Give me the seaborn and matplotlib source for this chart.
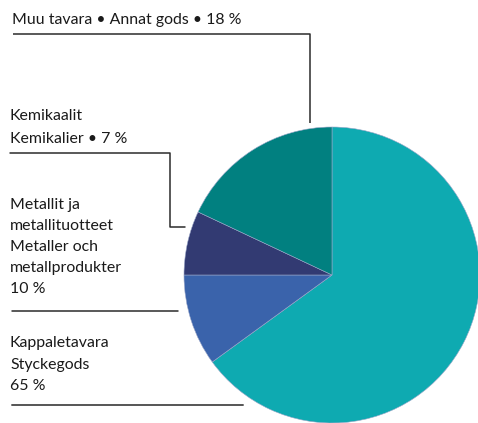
import matplotlib
matplotlib.use("Agg")
import matplotlib.pyplot as plt
import seaborn as sns

# shares of goods, clockwise from 12 o'clock
categories = ["Kappaletavara", "Metallit", "Kemikaalit", "Muu tavara"]
shares = [65, 10, 7, 18]
colors = ["#0eaab1", "#3a63ab", "#323a72", "#018080"]

label_lines = {
    "Muu tavara": ["Muu tavara • Annat gods • 18 %"],
    "Kemikaalit": ["Kemikaalit", "Kemikalier • 7 %"],
    "Metallit": ["Metallit ja", "metallituotteet", "Metaller och", "metallprodukter", "10 %"],
    "Kappaletavara": ["Kappaletavara", "Styckegods", "65 %"],
}

sns.set_theme(style="white")
plt.rcParams["font.family"] = ["Lato", "DejaVu Sans"]

W, H = 478, 423
fig = plt.figure(figsize=(W / 100, H / 100), dpi=100)
ax = fig.add_axes([0, 0, 1, 1])

ax.pie(shares, colors=colors, startangle=90, counterclock=False,
       center=(332, H - 275), radius=148,
       wedgeprops=dict(linewidth=0.4, edgecolor="#9aa6c8"))

# pie() resets the limits, so set the pixel frame afterwards
ax.set_xlim(0, W)
ax.set_ylim(0, H)
ax.set_aspect("equal")
ax.axis("off")

# text blocks: (key, x, first baseline, line step) in pixel coords from top
blocks = [("Muu tavara", 12, 24, 0),
          ("Kemikaalit", 10, 120, 23),
          ("Metallit", 10, 209, 21),
          ("Kappaletavara", 10, 347, 21.5)]
for key, x, y0, step in blocks:
    for i, line in enumerate(label_lines[key]):
        ax.text(x, H - (y0 + i * step), line, fontsize=11.4, color="#1a1a1a",
                ha="left", va="baseline")

# leader lines
lc = "#2b2b2b"
lw = 1.1
ax.plot([13, 310, 310], [H - 34, H - 34, H - 123], color=lc, lw=lw, solid_capstyle="butt")
ax.plot([10, 170, 170, 185], [H - 153, H - 153, H - 227, H - 227], color=lc, lw=lw)
ax.plot([12, 178], [H - 311, H - 311], color=lc, lw=lw)
ax.plot([12, 243], [H - 405, H - 405], color="#555555", lw=1.4)

fig.savefig("out.png", dpi=100)
